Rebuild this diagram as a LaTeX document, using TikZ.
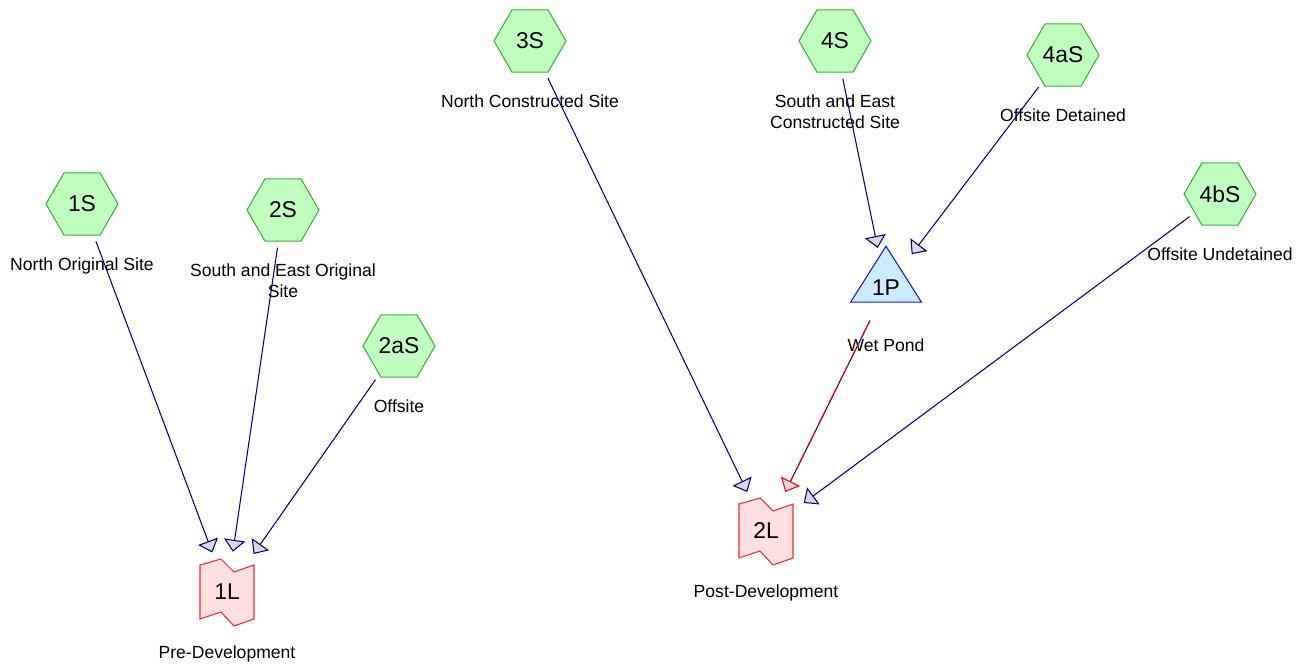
\documentclass[tikz,border=0pt]{standalone}
\usepackage{fontspec}
\setmainfont{Liberation Sans}
\usepackage{xcolor}
\usetikzlibrary{positioning, arrows.meta, shapes.geometric, backgrounds}

\definecolor{hexfill}{RGB}{192,255,192}
\definecolor{hexline}{RGB}{60,175,60}
\definecolor{pondfill}{RGB}{204,236,255}
\definecolor{pondline}{RGB}{20,20,235}
\definecolor{linkfill}{RGB}{255,224,224}
\definecolor{linkline}{RGB}{250,40,40}
\definecolor{flowblue}{RGB}{0,0,130}
\definecolor{tipfill}{RGB}{218,218,222}

\begin{document}
\begin{tikzpicture}[
  x=0.02cm, y=-0.02cm,
  subcat/.style={regular polygon, regular polygon sides=6, minimum size=1.44cm, inner sep=0pt, line width=0.6pt, draw=hexline, fill=hexfill, font=\fontsize{13}{15}\selectfont},
  pond/.style={isosceles triangle, shape border rotate=90, isosceles triangle apex angle=65, isosceles triangle stretches, minimum width=1.42cm, minimum height=1.12cm, inner sep=0pt, line width=0.6pt, draw=pondline, fill=pondfill, font=\fontsize{13}{15}\selectfont},
  reach/.style={minimum width=1.08cm, minimum height=1.08cm, inner sep=0pt, font=\fontsize{13}{15}\selectfont},
  reachedge/.style={line width=0.6pt, draw=linkline, fill=linkfill},
  lbl/.style={inner sep=0pt, align=center, font=\fontsize{10}{12}\selectfont},
  flow/.style={-{Triangle[length=6.8pt, width=12pt, fill=tipfill]}, draw=flowblue, line width=0.6pt, shorten <=0.12cm, shorten >=0.26cm}
]
  \useasboundingbox (0,0) rectangle (1307,665);

  % subcatchments
  \node[subcat] (s1) at (82,204) {1S};
  \node[subcat] (s2) at (283,210) {2S};
  \node[subcat] (s2a) at (399,346) {2aS};
  \node[subcat] (s3) at (530,41) {3S};
  \node[subcat] (s4) at (835,41) {4S};
  \node[subcat] (s4a) at (1063,55) {4aS};
  \node[subcat] (s4b) at (1220,194) {4bS};

  % pond and links
  \node[pond] (p1) at (886,288) {1P};
  \node[reach] (l1) at (227,592) {1L};
  \node[reach] (l2) at (766,531) {2L};
  \begin{scope}[on background layer, shift={(l1.center)}]
    \draw[reachedge] (-27,-27) -- (-6,-33) -- (7,-20) -- (27,-27) -- (27,27) -- (7,34) -- (-6,20) -- (-27,27) -- cycle;
  \end{scope}
  \begin{scope}[on background layer, shift={(l2.center)}]
    \draw[reachedge] (-27,-27) -- (-6,-33) -- (7,-20) -- (27,-27) -- (27,27) -- (7,34) -- (-6,20) -- (-27,27) -- cycle;
  \end{scope}

  % captions
  \node[lbl, below=0.44cm of s1] (s1txt) {North Original Site};
  \node[lbl, below=0.44cm of s2] (s2txt) {South and East Original\\Site};
  \node[lbl, below=0.44cm of s2a] (s2atxt) {Offsite};
  \node[lbl, below=0.44cm of s3] (s3txt) {North Constructed Site};
  \node[lbl, below=0.44cm of s4] (s4txt) {South and East\\Constructed Site};
  \node[lbl, below=0.44cm of s4a] (s4atxt) {Offsite Detained};
  \node[lbl, below=0.44cm of s4b] (s4btxt) {Offsite Undetained};
  \node[lbl, below=0.72cm of p1] (p1txt) {Wet Pond};
  \node[lbl, below=0.52cm of l1] (l1txt) {Pre-Development};
  \node[lbl, below=0.52cm of l2] (l2txt) {Post-Development};

  % flows
  \draw[flow] (s1) -- (l1);
  \draw[flow] (s2) -- (l1);
  \draw[flow] (s2a) -- (l1);
  \draw[flow] (s3) -- (l2);
  \draw[flow, shorten >=0.16cm] (s4) -- (p1);
  \draw[flow, shorten >=0.36cm] (s4a) -- (p1);
  \draw[flow] (s4b) -- (l2);
  \draw[flowblue, line width=0.6pt, shorten <=0.4cm, shorten >=0.26cm] (p1) -- (l2);
  \draw[flow, draw=red, dash pattern=on 10pt off 4pt, shorten <=0.4cm] (p1) -- (l2);
\end{tikzpicture}
\end{document}
